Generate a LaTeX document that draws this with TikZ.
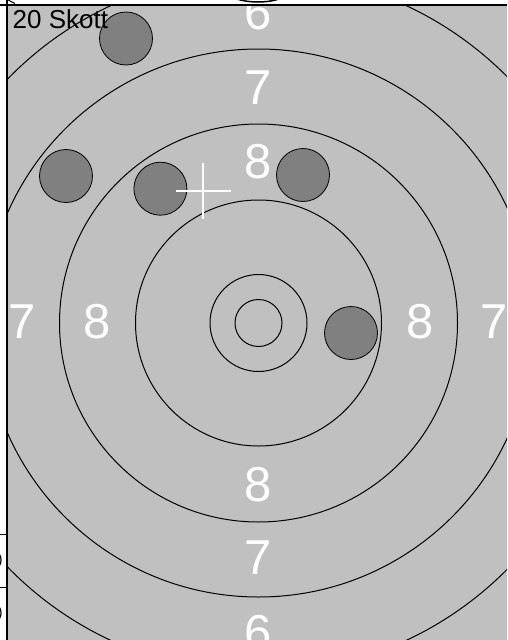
\documentclass[tikz,border=0pt]{standalone}
\usepackage{fontspec}
\setmainfont{Liberation Sans}
\definecolor{targetgray}{HTML}{C0C0C0}
\definecolor{shotgray}{HTML}{808080}
\begin{document}
\begin{tikzpicture}[x=1pt,y=-1pt,
  ring/.style={draw=black,line width=1pt},
  frameline/.style={draw=black,line width=1.6pt},
  shot/.style={circle,fill=shotgray,draw=black,line width=0.8pt,minimum size=53pt,inner sep=0pt},
  score/.style={text=white,font=\fontsize{49}{49}\selectfont,inner sep=0pt},
  aimline/.style={draw=white,line width=2pt}]
\useasboundingbox (0,0) rectangle (507,640);
\fill[white] (0,0) rectangle (507,640);
\fill[targetgray] (7,6) rectangle (507,640);
\coordinate (c) at (258.5,323);
\begin{scope}
  \clip (7,6) rectangle (507,640);
  \foreach \r in {23.5,48.5,123,199,274,350} \draw[ring] (c) circle[radius=\r];
  \node[score] (t6) at (258,13) {6};
  \node[score] (t7) at (258,88) {7};
  \node[score] (t8) at (258,162) {8};
  \node[score] (b8) at (258,485) {8};
  \node[score] (b7) at (258,558) {7};
  \node[score] (b6) at (258,633) {6};
  \node[score] (l7) at (22,322) {7};
  \node[score] (l8) at (97,322) {8};
  \node[score] (r8) at (420,322) {8};
  \node[score] (r7) at (494,322) {7};
  \node[shot] (s1) at (126,38.5) {};
  \node[shot] (s2) at (66,176) {};
  \node[shot] (s3) at (160.4,188.7) {};
  \node[shot] (s4) at (303,175) {};
  \node[shot] (s5) at (351,333) {};
  \coordinate (aim) at (203,191.3);
  \draw[aimline] ([xshift=-27.5pt]aim) -- ([xshift=27.5pt]aim);
  \draw[aimline] ([yshift=28pt]aim) -- ([yshift=-28pt]aim);
  \node[anchor=base west,inner sep=0pt,font=\fontsize{26}{26}\selectfont] (title) at (12.5,28) {20 Skott};
\end{scope}
% fragments outside the frame
\begin{scope}
  \clip (0,0) rectangle (507,4.5);
  \draw[line width=1.5pt] (258,-14) ellipse[x radius=36, y radius=16];
  \draw[line width=1pt] (8,0) -- (15,3.5);
\end{scope}
\begin{scope}
  \clip (0,0) rectangle (6,640);
  \draw[line width=1pt] (0,534) -- (7,534);
  \draw[line width=1pt] (0,587) -- (7,587);
  \draw[line width=1.2pt] (-3,560) ellipse[x radius=4, y radius=7];
  \draw[line width=1.2pt] (-3,613) ellipse[x radius=4, y radius=7];
\end{scope}
\draw[frameline] (0,5) -- (507,5);
\draw[frameline] (6.7,0) -- (6.7,640);
\end{tikzpicture}
\end{document}
